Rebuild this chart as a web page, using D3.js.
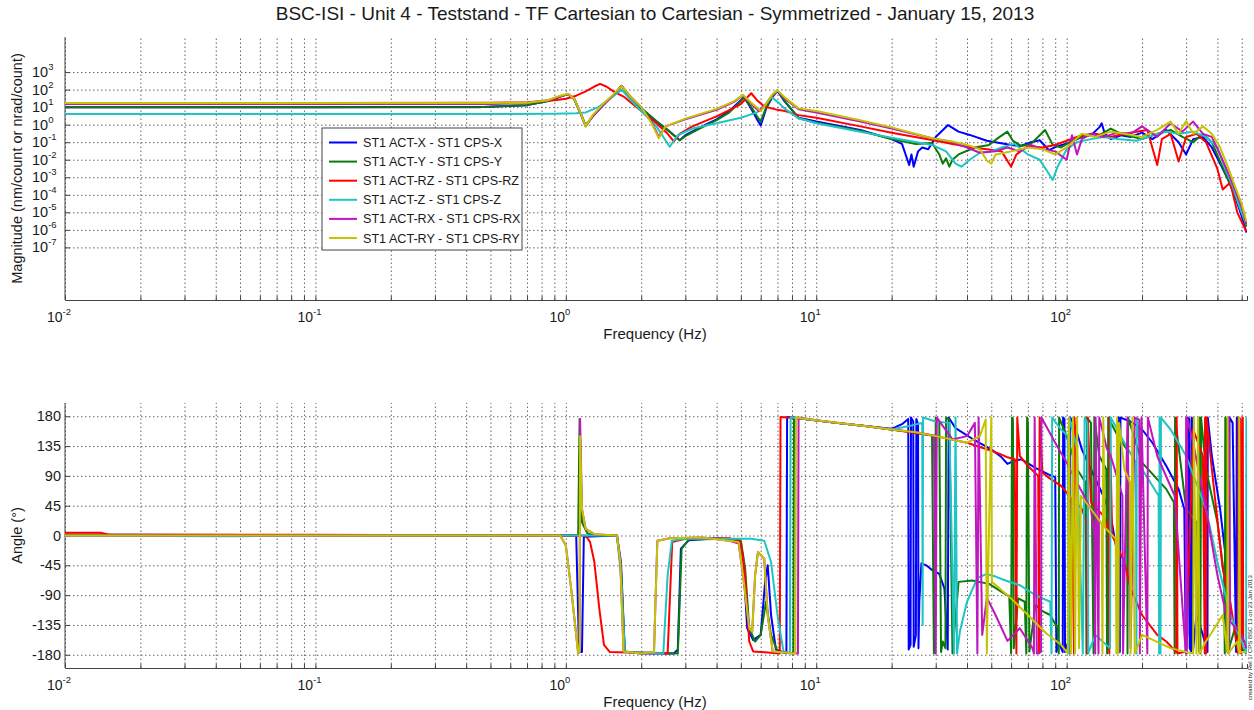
<!DOCTYPE html>
<html>
<head>
<meta charset="utf-8">
<script src="https://cdn.jsdelivr.net/npm/d3@7"></script>
<style>
  body { margin: 0; background: #fff; }
  text { font-family: Arial, "Liberation Sans", sans-serif; fill: #1a1a1a; }
</style>
</head>
<body>
<svg id="chart" width="1254" height="710"></svg>
<script>
// ---- data (frequency in Hz, magnitude in nm/count, phase in degrees) ----
const seriesNames = [
  "ST1 ACT-X - ST1 CPS-X", "ST1 ACT-Y - ST1 CPS-Y", "ST1 ACT-RZ - ST1 CPS-RZ",
  "ST1 ACT-Z - ST1 CPS-Z", "ST1 ACT-RX - ST1 CPS-RX", "ST1 ACT-RY - ST1 CPS-RY"
];
const seriesColors = ["#0000ff", "#0a7a0a", "#ff0000", "#1fc4c4", "#bf16bf", "#c4c400"];

const magX = [[0.01,10],[0.1,10],[0.5,10.5],[0.7,13],[0.85,22],[0.95,40],[1.02,55],[1.08,30],[1.15,4],[1.2,0.85],[1.28,3],[1.4,12],[1.55,50],[1.67,160],[1.8,40],[2.0,8],[2.3,1.5],[2.6,0.4],[2.85,0.13],[3.0,0.25],[3.5,0.8],[4.0,2],[4.5,6],[5.0,25],[5.15,38],[5.5,8],[5.8,2],[6.0,0.9],[6.3,8],[6.7,40],[7.0,85],[7.5,20],[8.5,2.5],[10,1.5],[15,0.5],[20,0.15],[22,0.08],[23.5,0.005],[24,0.02],[24.5,0.004],[25.5,0.03],[26.5,0.05],[28,0.04],[30,0.2],[33.6,0.95],[37,0.4],[41,0.26],[48,0.12],[54,0.09],[60,0.07],[65,0.06],[72,0.1],[78,0.13],[85,0.035],[92,0.06],[102,0.09],[115,0.2],[125,0.25],[135,0.7],[138,1.2],[142,0.3],[150,0.15],[165,0.25],[180,0.2],[200,0.35],[220,0.15],[250,0.5],[280,0.1],[300,0.02],[320,0.15],[350,0.2],[380,0.05],[410,0.006],[440,0.0008],[470,0.00008],[500,0.000006],[522,0.0000007]];
const magY = [[0.01,10],[0.3,10],[0.45,10],[0.5,11],[0.7,13],[0.85,22],[0.95,40],[1.02,55],[1.08,28],[1.15,3.5],[1.2,0.8],[1.28,3],[1.4,12],[1.55,50],[1.67,165],[1.8,42],[2.0,9],[2.3,1.6],[2.6,0.4],[2.85,0.13],[3.0,0.22],[3.5,0.7],[4.0,1.8],[4.5,5],[5.0,22],[5.15,35],[5.5,10],[5.8,3],[6.0,1.5],[6.3,9],[6.7,45],[7.0,90],[7.5,22],[8.5,2.3],[10,1.3],[15,0.45],[20,0.15],[25,0.08],[29,0.09],[31,0.02],[32,0.006],[33,0.012],[34,0.004],[35,0.01],[37,0.02],[43,0.05],[49,0.07],[54,0.2],[58,0.4],[61,0.12],[66,0.06],[72,0.08],[82,0.5],[88,0.07],[95,0.05],[105,0.12],[115,0.2],[125,0.3],[135,0.25],[150,0.6],[165,0.3],[180,0.22],[200,0.15],[230,0.3],[260,0.5],[290,0.2],[320,0.1],[350,0.3],[380,0.1],[410,0.008],[440,0.0008],[470,0.0001],[500,0.00001],[522,0.0000015]];
const magRZ = [[0.01,17],[0.1,17],[0.5,18],[0.7,19],[0.9,25],[1.0,30],[1.1,45],[1.2,80],[1.3,150],[1.37,210],[1.45,150],[1.55,80],[1.7,40],[2.0,6],[2.3,1.2],[2.55,0.3],[2.7,0.11],[2.85,0.3],[3.2,0.8],[4.0,3],[4.6,8],[5.0,15],[5.5,62],[5.8,25],[6.2,11],[7.0,7],[7.5,6],[8.5,3.5],[10,2.5],[15,0.8],[20,0.35],[29,0.135],[35,0.08],[42,0.05],[48,0.04],[55,0.03],[60,0.004],[63,0.02],[70,0.06],[80,0.05],[90,0.07],[100,0.12],[115,0.25],[130,0.3],[150,0.2],[170,0.3],[190,0.4],[210,0.5],[230,0.005],[240,0.15],[260,0.3],[280,0.008],[300,0.2],[330,0.3],[360,0.1],[400,0.003],[420,0.0002],[450,0.0005],[480,0.00001],[522,0.0000008]];
const magZ = [[0.01,4],[0.5,4],[0.9,4.2],[1.1,4.5],[1.2,5],[1.35,10],[1.5,30],[1.67,100],[1.8,30],[2.0,6],[2.3,0.8],[2.6,0.055],[2.8,0.25],[3.2,0.6],[4.0,1.2],[5.0,2.5],[5.8,5],[6.3,15],[6.6,40],[7.0,20],[7.5,8],[8.5,2.3],[10,1.2],[15,0.4],[20,0.18],[29,0.07],[33,0.03],[36,0.006],[38,0.004],[41,0.01],[45,0.025],[50,0.03],[55,0.05],[62,0.08],[70,0.02],[78,0.01],[84,0.002],[88,0.0007],[92,0.004],[100,0.04],[110,0.1],[125,0.15],[140,0.2],[160,0.15],[190,0.12],[220,0.25],[250,0.4],[280,0.3],[320,0.4],[360,0.2],[400,0.05],[430,0.003],[460,0.0003],[490,0.00002],[522,0.000002]];
const magRX = [[0.01,15],[0.5,15],[0.7,17],[0.85,25],[0.95,42],[1.02,55],[1.08,30],[1.15,4],[1.2,0.9],[1.28,3],[1.4,12],[1.55,50],[1.67,160],[1.8,45],[2.0,10],[2.2,1.5],[2.35,0.2],[2.5,0.8],[3.0,2],[4.0,7],[4.7,20],[5.1,48],[5.5,15],[5.9,6],[6.3,15],[6.7,50],[7.0,88],[7.5,30],[8.5,7.5],[10,5],[15,1.5],[20,0.6],[29,0.17],[35,0.1],[40,0.05],[45,0.025],[52,0.03],[58,0.05],[65,0.03],[72,0.07],[80,0.04],[90,0.03],[100,0.01],[105,0.25],[110,0.02],[115,0.15],[125,0.3],[140,0.2],[160,0.35],[180,0.3],[200,0.8],[230,0.2],[260,1.2],[290,0.4],[320,1.5],[350,0.3],[380,0.2],[410,0.02],[440,0.002],[470,0.0002],[500,0.00002],[522,0.000002]];
const magRY = [[0.01,17],[0.5,17],[0.7,18],[0.85,25],[0.95,45],[1.02,58],[1.08,30],[1.15,4],[1.2,0.8],[1.28,3.5],[1.4,14],[1.55,55],[1.67,160],[1.8,45],[2.0,10],[2.2,1.2],[2.35,0.17],[2.5,0.8],[3.0,2.2],[4.0,8],[4.7,22],[5.1,50],[5.5,18],[6.0,6],[6.3,15],[6.7,55],[7.0,90],[7.5,35],[8.5,8.5],[10,6],[15,1.8],[20,0.7],[29,0.17],[35,0.11],[40,0.07],[45,0.04],[48,0.009],[50,0.006],[52,0.02],[60,0.03],[70,0.05],[80,0.04],[90,0.02],[100,0.05],[115,0.3],[130,0.2],[150,0.4],[170,0.3],[200,0.2],[230,0.5],[260,1.5],[280,0.3],[300,1.6],[320,0.3],[350,0.8],[380,0.3],[410,0.05],[440,0.004],[470,0.0003],[500,0.00003],[522,0.000003]];

const phaseX = [[0.01,1],[0.1,0.5],[0.5,0],[1.1,0],[1.13,-176],[1.16,-176],[1.18,-2],[1.6,0],[1.66,-40],[1.72,-175],[2.0,-178],[2.7,-178],[2.8,-172],[2.88,-20],[3.1,-7],[4.0,-4],[4.9,-6],[5.1,-30],[5.3,-140],[5.6,-158],[6.0,-150],[6.25,-70],[6.4,-45],[6.6,-120],[6.9,-172],[7.6,-178],[7.65,179],[8.5,177],[12,170],[16,165],[20,161],[22,168],[23.3,176],[23.4,-172],[23.8,-165],[23.9,178],[24.4,172],[24.5,-168],[25.0,-150],[25.1,176],[25.5,168],[25.6,-170],[25.8,-100],[26.3,-42],[27.5,-45],[29,-52],[31,-58],[32.5,-80],[33.5,-172],[33.8,178],[36,162],[42,146],[50,130],[55,118],[58,108],[61,112],[66,115],[75,102],[85,92],[90,88],[91,-176],[93,-160],[95,-170],[96.5,-176],[96.8,178],[98,176],[98.5,-176],[100,-165],[103,-178],[103.3,178],[108,165],[115,130],[125,100],[140,60],[150,30],[158,-20],[161,-176],[161.5,178],[163,-176],[164,178],[180,172],[200,160],[220,140],[250,105],[280,70],[295,40],[299,-176],[303,-150],[305,178],[309,176],[310,-170],[314,-175],[316,178],[318,176],[320,-172],[330,-120],[350,-150],[365,-176],[366,178],[380,120],[410,40],[440,-60],[446,-176],[447,178],[460,170],[475,-176],[478,178],[490,-170],[522,-178]];
const phaseY = [[0.01,1],[0.1,0.5],[0.5,0],[1.12,0],[1.135,176],[1.16,20],[1.22,3],[1.3,0],[1.6,0],[1.66,-50],[1.72,-176],[2.8,-178],[2.9,-20],[3.1,-6],[4.5,-5],[5.0,-8],[5.2,-50],[5.4,-140],[5.7,-160],[6.0,-150],[6.3,-100],[6.6,-150],[7.0,-175],[8.1,-178],[8.15,178],[9,176],[12,170],[16,165],[20,160],[25,155],[29,151],[29.5,-178],[29.8,-150],[30,178],[31,172],[31.5,-176],[32,-160],[32.8,-170],[33,178],[34,175],[35,-178],[37,-70],[42,-68],[49,-73],[55,-85],[59,-92],[60,-178],[60.5,178],[61,176],[61.5,-170],[64,-95],[68,-100],[69,-178],[69.5,178],[70,170],[71,-175],[75,-105],[80,-114],[86,-120],[92,-140],[93,-178],[93.3,178],[100,150],[110,100],[119,80],[120,-178],[120.5,178],[125,170],[128,-178],[129,178],[135,120],[144,100],[145,-178],[146,-170],[146.5,178],[160,150],[174,130],[175,-178],[176,178],[200,110],[250,70],[268,50],[270,-178],[271,178],[300,40],[330,20],[338,-175],[340,178],[342,-178],[344,178],[360,100],[400,20],[425,-60],[428,-178],[430,178],[436,170],[437,-175],[440,178],[441,-175],[470,-140],[500,-170],[522,-178]];
const phaseRZ = [[0.01,4],[0.014,4],[0.015,1],[0.1,1],[0.5,0],[1.2,0],[1.25,-10],[1.3,-40],[1.36,-110],[1.42,-165],[1.5,-176],[2.55,-178],[2.6,-100],[2.66,-10],[3.0,-5],[4.5,-4],[5.0,-10],[5.2,-60],[5.4,-160],[5.6,-175],[7.15,-178],[7.2,179],[8.5,177],[12,170],[16,165],[20,160],[30,150],[40,140],[50,128],[55,122],[58,118],[62,115],[63,-178],[63.5,178],[65,120],[70,105],[77,90],[77.5,-178],[78,178],[80,95],[85,87],[95,75],[105,55],[107,-178],[107.5,178],[110,48],[115,40],[120,20],[121,-178],[121.5,178],[125,50],[140,30],[147,10],[148,-178],[148.5,178],[152,0],[170,-40],[180,-80],[200,-120],[230,-150],[250,-160],[274,-176],[275,178],[277,-178],[300,-175],[320,160],[350,120],[356,-178],[357,178],[360,-178],[362,178],[380,100],[420,-50],[450,-100],[484,-178],[485,178],[495,176],[498,-178],[505,178],[507,-160],[522,-160]];
const phaseZ = [[0.01,0],[0.04,-1],[0.05,-1],[0.1,0],[0.5,0],[1.6,0],[1.66,-60],[1.72,-176],[2.45,-178],[2.55,-60],[2.65,-8],[3,-5],[5.5,-5],[6.2,-8],[6.6,-40],[7.0,-120],[7.4,-175],[7.85,-178],[7.9,178],[8.5,177],[12,170],[16,165],[20,160],[24,166],[26.5,170],[26.6,-135],[26.7,178],[30,172],[34,170],[35.5,-178],[36,178],[36.5,-178],[37.5,-144],[40,-100],[44,-64],[48,-58],[52,-62],[57,-68],[65,-75],[75,-90],[86,-100],[87,-178],[87.5,178],[95,160],[101,150],[102,-178],[102.5,178],[110,130],[116,-178],[118,178],[121,170],[122,-178],[130,-150],[149,-170],[150,178],[170,140],[189,110],[190,-178],[190.5,178],[200,100],[233,60],[234,-178],[235,178],[237,-178],[238,178],[260,160],[300,120],[360,40],[400,-40],[450,-120],[500,-160],[521,-178],[522,178]];
const phaseRX = [[0.01,0],[0.5,0],[0.95,0],[1.0,-15],[1.05,-80],[1.1,-150],[1.12,-178],[1.135,-176],[1.14,176],[1.16,40],[1.2,10],[1.3,2],[1.6,0],[1.65,-40],[1.7,-175],[2.0,-178],[2.25,-176],[2.28,-100],[2.32,-8],[2.6,-4],[3.5,-3],[4.5,-8],[4.9,-12],[5.1,-60],[5.4,-140],[5.55,-145],[5.7,-60],[5.85,-25],[6.2,-35],[6.4,-120],[6.7,-175],[8.45,-178],[8.5,178],[10,174],[15,166],[20,160],[25,156],[29.5,151],[30,-178],[30.3,178],[35,145],[40,150],[43,170],[44,-178],[44.5,178],[46,-150],[48,-94],[52,-120],[58,-159],[65,-140],[73,-170],[74,-178],[74.5,178],[76,-178],[79,-176],[79.3,178],[90,140],[100,110],[110,80],[125,40],[129,0],[130,-178],[130.5,178],[134,-178],[135,178],[145,130],[150,120],[167,60],[168,-178],[175,178],[180,-170],[187,178],[195,175],[196,-178],[199,178],[210,-178],[211,178],[230,120],[270,60],[299,-178],[300,178],[302,-178],[303,178],[320,140],[360,40],[400,-60],[440,-130],[443,-178],[444,178],[450,-130],[500,-150],[522,-170]];
const phaseRY = [[0.01,0],[0.5,0],[0.95,0],[1.0,-15],[1.05,-80],[1.1,-150],[1.12,-178],[1.135,-176],[1.14,150],[1.16,40],[1.2,10],[1.3,2],[1.6,0],[1.65,-40],[1.7,-175],[2.0,-178],[2.25,-176],[2.28,-100],[2.32,-8],[2.6,-4],[3.5,-3],[4.5,-8],[4.9,-10],[5.1,-60],[5.4,-140],[5.55,-145],[5.7,-60],[5.85,-25],[6.2,-35],[6.4,-120],[6.7,-175],[8.25,-178],[8.3,178],[10,174],[15,166],[20,160],[25,156],[30,150],[40,140],[45,150],[47.5,175],[48,-178],[48.5,-68],[50,178],[50.3,-70],[60,-95],[70,-120],[83,-148],[95,-165],[101,-178],[102,178],[104,-178],[106,178],[108,-178],[110,178],[112,-170],[114,60],[125,40],[138,18],[139,-178],[140,178],[142,12],[157,-5],[158,-178],[159,178],[161,-178],[162,170],[170,100],[179,80],[180,-178],[183,178],[187,-178],[200,-150],[260,-170],[300,-176],[320,-178],[322,178],[330,-178],[335,178],[339,-178],[360,-160],[420,-120],[438,-176],[439,178],[442,-178],[480,-160],[488,-178],[489,178],[492,-176],[522,-176]];

const magSeries = [magX, magY, magRZ, magZ, magRX, magRY];
const phaseSeries = [phaseX, phaseY, phaseRZ, phaseZ, phaseRX, phaseRY];

const freqDecades = [0.01, 0.1, 1, 10, 100];
const magTicks = [1e-7, 1e-6, 1e-5, 1e-4, 1e-3, 1e-2, 1e-1, 1e0, 1e1, 1e2, 1e3];
const phaseTicks = [-180, -135, -90, -45, 0, 45, 90, 135, 180];

const titleText = "BSC-ISI - Unit 4 - Teststand - TF Cartesian to Cartesian - Symmetrized - January 15, 2013";

// ---- layout ----
const fMin = 0.01, fMax = 525;
const left = 65, right = 1247;
const magTop = 37, magBottom = 300;
const phTop = 403, phBottom = 668;

const svg = d3.select("#chart");
svg.append("rect").attr("width", 1254).attr("height", 710).attr("fill", "#fff");

const x = d3.scaleLog().domain([fMin, fMax]).range([left, right]);
const yMag = d3.scaleLog().domain([1e-10, 1e5]).range([magBottom, magTop]);
const yPh = d3.scaleLinear().domain([-200, 200]).range([phBottom, phTop]);

// all 1..9 x 10^k positions for the vertical grid
const freqGrid = [];
for (const d of freqDecades) {
  for (let m = 1; m <= 9; m++) {
    const v = m * d;
    if (v <= fMax) freqGrid.push(v);
  }
}

function powLabel(sel, exp) {
  sel.append("tspan").text("10");
  sel.append("tspan").attr("dy", -7).attr("font-size", 9.5).text(exp);
}

function drawPanel(y, yTicks, top, bottom, data, id) {
  const g = svg.append("g");

  g.append("clipPath").attr("id", id)
    .append("rect").attr("x", left).attr("y", top).attr("width", right - left).attr("height", bottom - top);

  // vertical grid
  g.append("g")
    .attr("transform", `translate(0,${bottom})`)
    .call(d3.axisBottom(x).tickValues(freqGrid).tickSize(-(bottom - top)).tickFormat(""))
    .call(a => a.select(".domain").remove())
    .selectAll("line")
    .attr("stroke", "#666").attr("stroke-width", 1).attr("stroke-dasharray", "1.5,2.5");

  // horizontal grid
  g.append("g")
    .attr("transform", `translate(${left},0)`)
    .call(d3.axisLeft(y).tickValues(yTicks).tickSize(-(right - left)).tickFormat(""))
    .call(a => a.select(".domain").remove())
    .selectAll("line")
    .attr("stroke", "#666").attr("stroke-width", 1).attr("stroke-dasharray", "1.5,2.5");

  // inner ticks
  g.append("g")
    .attr("transform", `translate(0,${bottom})`)
    .call(d3.axisBottom(x).tickValues(freqGrid).tickSize(-4).tickFormat(""))
    .call(a => a.select(".domain").attr("stroke", "#444"))
    .selectAll("line").attr("stroke", "#444");
  g.append("g")
    .attr("transform", `translate(${left},0)`)
    .call(d3.axisLeft(y).tickValues(yTicks).tickSize(-5).tickFormat(""))
    .call(a => a.select(".domain").attr("stroke", "#444").attr("d", `M0,${top}V${bottom}`))
    .selectAll("line").attr("stroke", "#444");

  // x tick labels 10^k
  g.append("g").selectAll("text")
    .data(freqDecades)
    .join("text")
    .attr("x", d => x(d) - 6)
    .attr("y", bottom + 22)
    .attr("font-size", 14)
    .attr("text-anchor", "middle")
    .each(function (d) { powLabel(d3.select(this), String(Math.round(Math.log10(d)))); });

  // curves
  const line = d3.line().x(d => x(d[0])).y(d => y(d[1]));
  g.append("g").attr("clip-path", `url(#${id})`)
    .selectAll("path")
    .data(data)
    .join("path")
    .attr("d", line)
    .attr("fill", "none")
    .attr("stroke", (d, i) => seriesColors[i])
    .attr("stroke-width", 2)
    .attr("stroke-linejoin", "round");

  g.append("text")
    .attr("x", 655)
    .attr("y", bottom + 39)
    .attr("text-anchor", "middle")
    .attr("font-size", 15)
    .text("Frequency (Hz)");
  return g;
}

const gMag = drawPanel(yMag, magTicks, magTop, magBottom, magSeries, "clipMag");
const gPh = drawPanel(yPh, phaseTicks, phTop, phBottom, phaseSeries, "clipPh");

// magnitude y tick labels
gMag.append("g").selectAll("text")
  .data(magTicks)
  .join("text")
  .attr("x", 32)
  .attr("y", d => yMag(d) + 5)
  .attr("font-size", 14.5)
  .each(function (d) { powLabel(d3.select(this), String(Math.round(Math.log10(d)))); });

// phase y tick labels
gPh.append("g").selectAll("text")
  .data(phaseTicks)
  .join("text")
  .attr("x", 61)
  .attr("y", d => yPh(d) + 5)
  .attr("text-anchor", "end")
  .attr("font-size", 14.5)
  .text(d => d);

svg.append("text")
  .attr("transform", `translate(22,${(magTop + magBottom) / 2}) rotate(-90)`)
  .attr("text-anchor", "middle")
  .attr("font-size", 14.5)
  .text("Magnitude (nm/count or nrad/count)");

svg.append("text")
  .attr("transform", `translate(22,${yPh(0)}) rotate(-90)`)
  .attr("text-anchor", "middle")
  .attr("font-size", 14.5)
  .text("Angle (°)");

svg.append("text")
  .attr("x", 655)
  .attr("y", 20)
  .attr("text-anchor", "middle")
  .attr("font-size", 19)
  .text(titleText);

// legend
const legend = svg.append("g").attr("transform", "translate(322,128)");
legend.append("rect").attr("width", 200).attr("height", 122)
  .attr("fill", "#fff").attr("stroke", "#444").attr("stroke-width", 1);
const rows = legend.selectAll("g.row").data(seriesNames).join("g")
  .attr("class", "row")
  .attr("transform", (d, i) => `translate(0,${14.5 + i * 19.1})`);
rows.append("line").attr("x1", 7).attr("x2", 35)
  .attr("stroke", (d, i) => seriesColors[i]).attr("stroke-width", 2);
rows.append("text").attr("x", 41).attr("y", 4.5).attr("font-size", 12.6).text(d => d);

// small stamp on the right edge
svg.append("text")
  .attr("transform", "translate(1252,700) rotate(-90)")
  .attr("font-size", 6)
  .attr("fill", "#444")
  .text("created by Rel 1/ CPS BSC 13 on 23 Jan 2013");
</script>
</body>
</html>
